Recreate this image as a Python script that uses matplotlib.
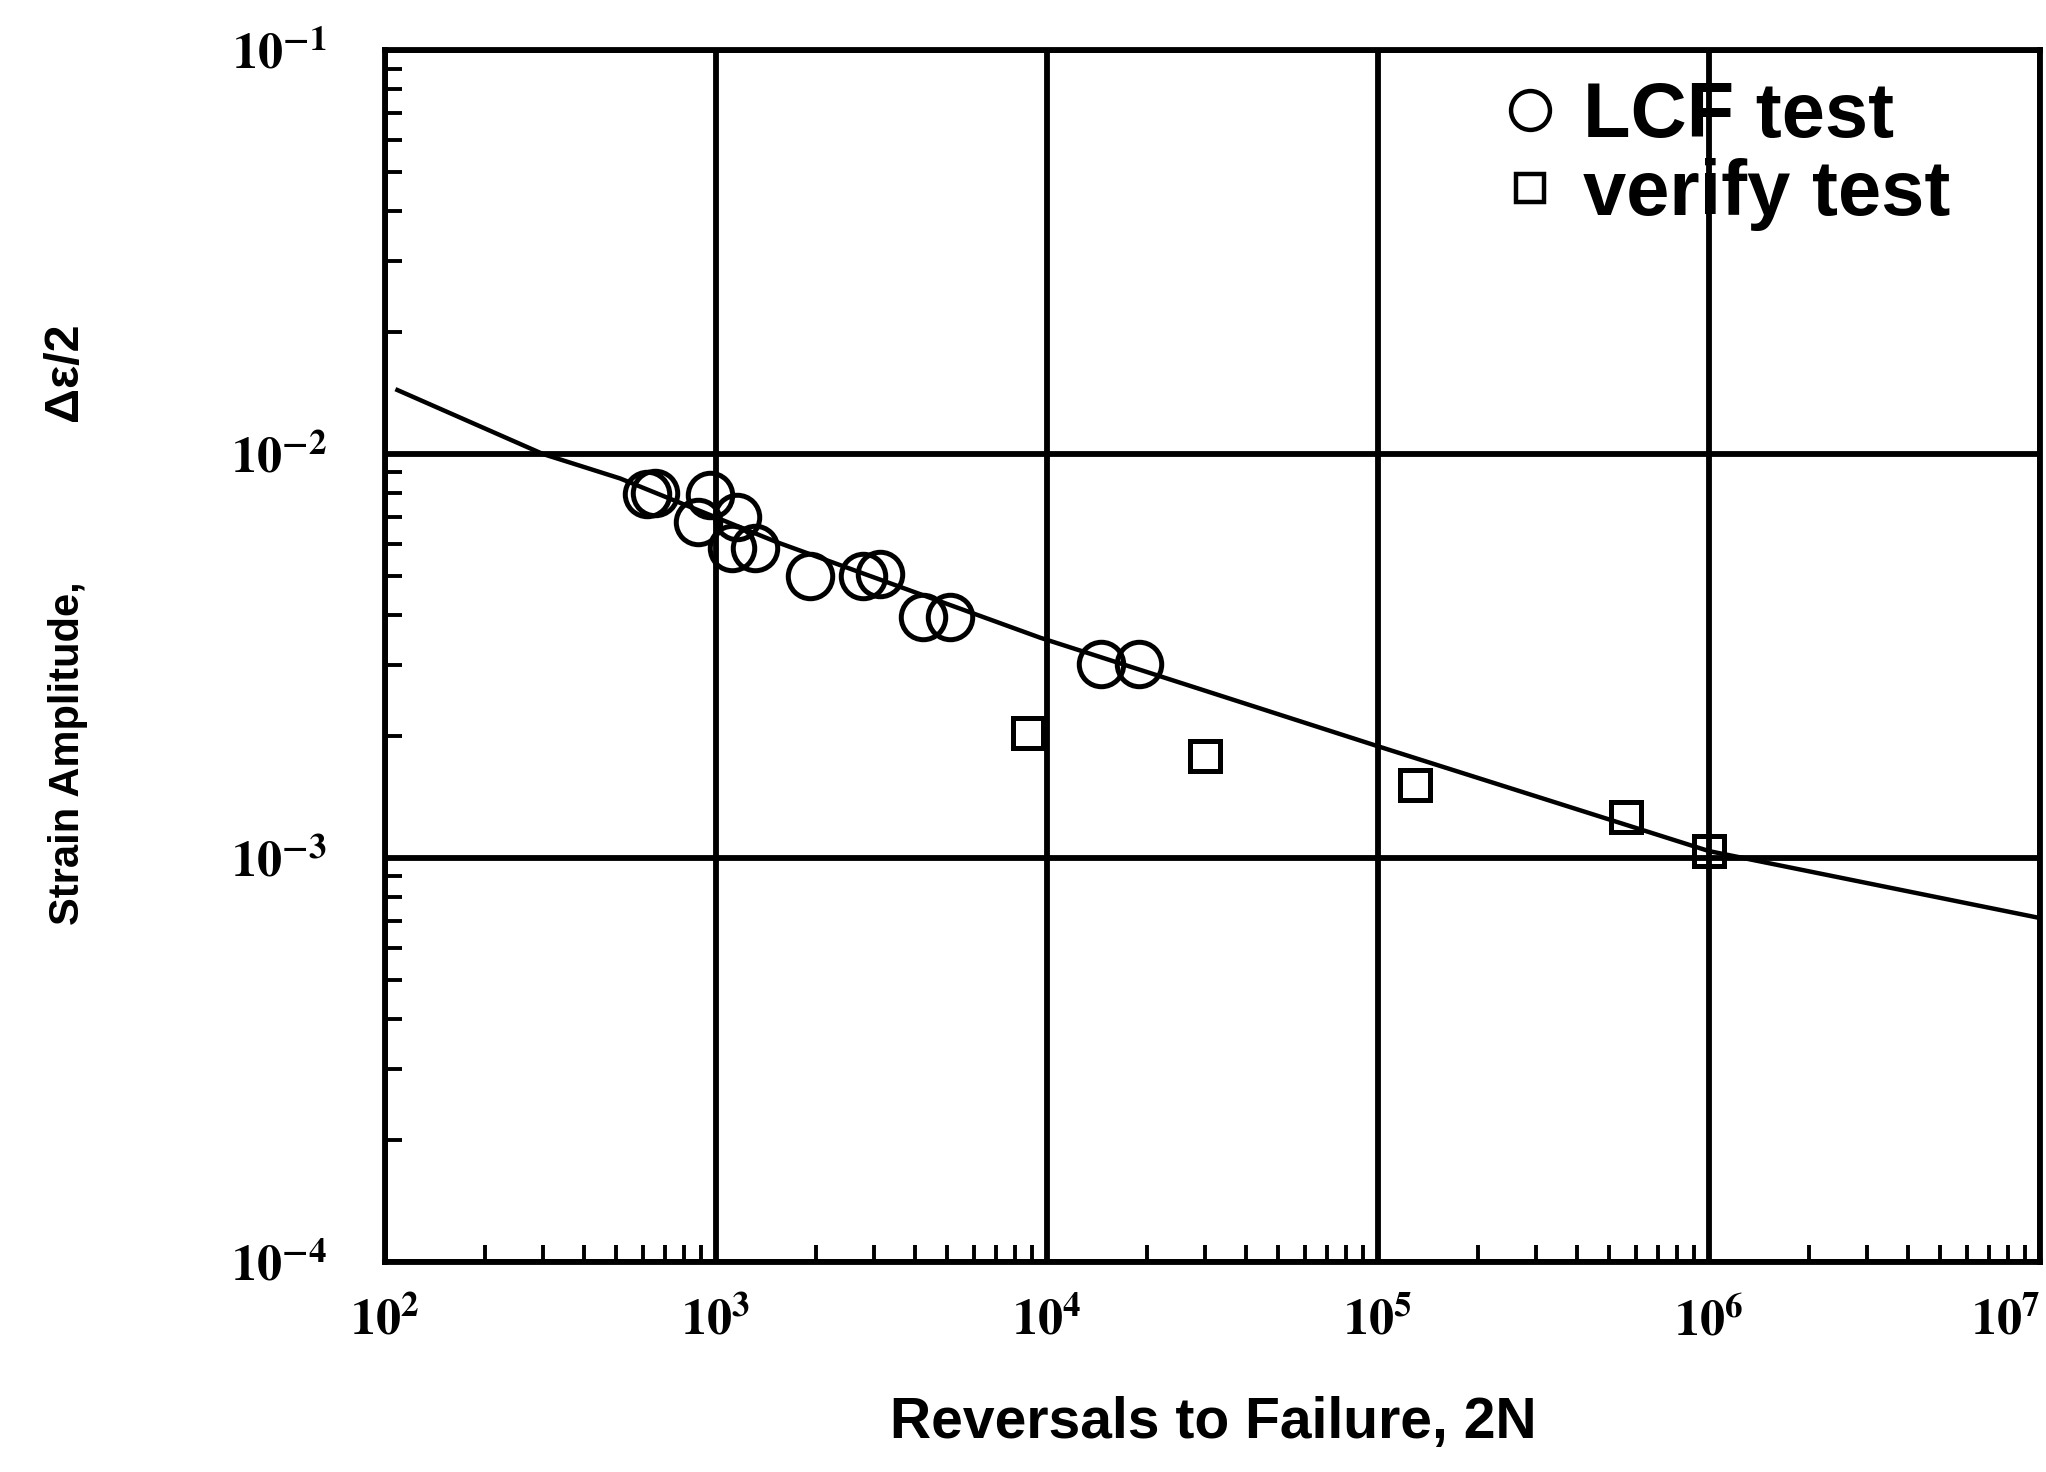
import math

import matplotlib
matplotlib.use("Agg")
import matplotlib.pyplot as plt
from matplotlib.lines import Line2D
from matplotlib.ticker import FuncFormatter, LogLocator, NullFormatter


# values
lcf_reversals = [619, 655, 883, 959, 1156, 1117, 1312, 1923, 2780, 3126, 4218, 5095, 14550, 19010]
lcf_strain = [0.00794, 0.0080, 0.00679, 0.0079, 0.00698, 0.00586, 0.00586,
              0.00499, 0.00499, 0.00504, 0.00396, 0.00396, 0.00302, 0.00302]

verify_reversals = [8750, 29990, 128900, 562000, 1.0e6]
verify_strain = [0.00204, 0.00179, 0.00152, 0.00126, 0.00104]

fit_reversals = [109, 300, 513, 1527, 9530, 1.0e5, 1.0e6, 1.0e7]
fit_strain = [0.0144, 0.0100, 0.0087, 0.00605, 0.00351, 0.00189, 0.00104, 0.00071]

x_ticks = [1e2, 1e3, 1e4, 1e5, 1e6, 1e7]
y_ticks = [1e-4, 1e-3, 1e-2, 1e-1]

plt.rcParams["font.family"] = ["Liberation Sans", "DejaVu Sans"]
plt.rcParams["mathtext.fontset"] = "stix"


def decade_label(value, pos):
    exponent = int(round(math.log10(value)))
    return r"$\mathbf{10^{%d}}$" % exponent


fig = plt.figure(figsize=(20.46, 14.72), dpi=100)
ax = fig.add_axes([0.1882, 0.1427, 0.9971 - 0.1882, 0.966 - 0.1427])

ax.set_xscale("log")
ax.set_yscale("log")
ax.set_xlim(x_ticks[0], x_ticks[-1])
ax.set_ylim(y_ticks[0], y_ticks[-1])

ax.grid(True, which="major", color="black", linewidth=4.2)
ax.set_axisbelow(True)
for spine in ax.spines.values():
    spine.set_linewidth(4.2)

ax.set_xticks(x_ticks)
ax.set_yticks(y_ticks)
ax.xaxis.set_minor_locator(LogLocator(base=10, subs=range(2, 10), numticks=20))
ax.yaxis.set_minor_locator(LogLocator(base=10, subs=range(2, 10), numticks=20))
ax.xaxis.set_major_formatter(FuncFormatter(decade_label))
ax.yaxis.set_major_formatter(FuncFormatter(decade_label))
ax.xaxis.set_minor_formatter(NullFormatter())
ax.yaxis.set_minor_formatter(NullFormatter())
ax.tick_params(which="major", direction="in", length=0, labelsize=36)
ax.tick_params(axis="y", which="major", pad=42)
ax.tick_params(axis="x", which="major", pad=26)
ax.tick_params(which="minor", direction="in", length=12, width=2.8)

# last x label sits against the figure edge in the scan
ax.get_xticklabels()[-1].set_horizontalalignment("right")

ax.plot(fit_reversals, fit_strain, color="black", linewidth=3.2, zorder=3)
ax.plot(lcf_reversals, lcf_strain, linestyle="none", marker="o", markersize=32,
        markerfacecolor="none", markeredgecolor="black", markeredgewidth=3.6, zorder=4)
ax.plot(verify_reversals, verify_strain, linestyle="none", marker="s", markersize=22,
        markerfacecolor="none", markeredgecolor="black", markeredgewidth=3.6, zorder=4)

handles = [
    Line2D([], [], linestyle="none", marker="o", markersize=28, markerfacecolor="none",
           markeredgecolor="black", markeredgewidth=3.2),
    Line2D([], [], linestyle="none", marker="s", markersize=20, markerfacecolor="none",
           markeredgecolor="black", markeredgewidth=3.2),
]
fig.legend(handles, ["LCF test", "verify test"], loc="upper left",
           bbox_to_anchor=(1499 / 2046, 1 - 80 / 1472), frameon=False,
           prop={"size": 56, "weight": "bold"}, borderpad=0, borderaxespad=0,
           handlelength=0.8, handletextpad=0.28, labelspacing=0.07)

fig.text(1213 / 2046, 1 - 1423 / 1472, "Reversals to Failure, 2N", ha="center",
         va="center", fontsize=41, fontweight="bold")
fig.text(68 / 2046, 1 - 753 / 1472, "Strain Amplitude,", ha="center",
         va="center", rotation=90, fontsize=30, fontweight="bold")
fig.text(64 / 2046, 1 - 372 / 1472, "\u0394\u03b5/2", ha="center",
         va="center", rotation=90, fontsize=35, fontweight="bold")

fig.savefig("out.png", dpi=100)
